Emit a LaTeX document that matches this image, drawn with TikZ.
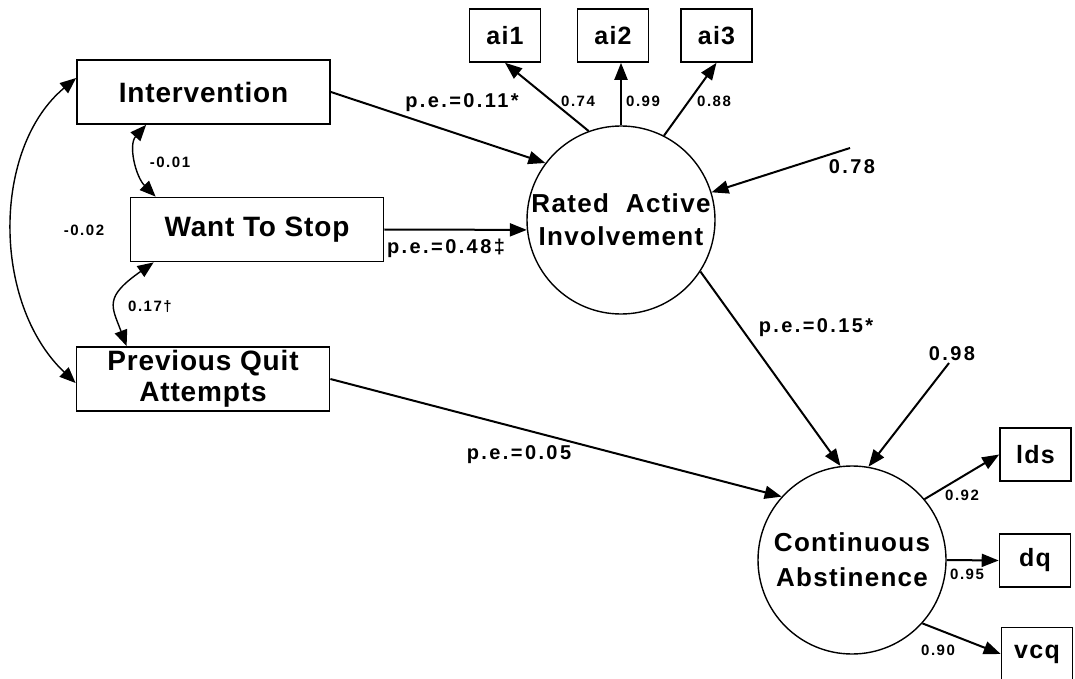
\documentclass[tikz,border=0pt]{standalone}
\usepackage{fontspec}
\setmainfont{Liberation Sans}
\newfontfamily\obsfam{Liberation Sans}[LetterSpace=3]
\newfontfamily\latfam{Liberation Sans}[LetterSpace=5]
\newfontfamily\indfam{Liberation Sans}[LetterSpace=5]
\newfontfamily\pefam{Liberation Sans}[LetterSpace=12]
\newfontfamily\ldfam{Liberation Sans}[LetterSpace=10]
\usetikzlibrary{arrows.meta,calc}
\tikzset{
  obs/.style={rectangle,draw,line width=0.9pt,inner sep=0pt,minimum width=126.5pt,minimum height=32pt,
    align=center,font=\obsfam\bfseries\fontsize{14}{15.5}\selectfont},
  ind/.style={rectangle,draw,line width=0.8pt,inner sep=0pt,minimum width=35.5pt,minimum height=26.5pt,
    font=\indfam\bfseries\fontsize{12.5}{14}\selectfont},
  lat/.style={circle,draw,line width=0.7pt,inner sep=-4pt,minimum size=94pt,align=center},
  pe/.style={inner sep=0pt,font=\pefam\bfseries\fontsize{10}{11}\selectfont},
  ld/.style={inner sep=0pt,font=\ldfam\bfseries\fontsize{7.5}{9}\selectfont},
  reg/.style={-{Triangle[length=8.5pt,width=6.5pt]},line width=1pt},
  cov/.style={{Triangle[length=8pt,width=6.5pt]}-{Triangle[length=8pt,width=6.5pt]},line width=0.7pt},
}

\begin{document}
\begin{tikzpicture}[x=0.5pt,y=-0.5pt]
  \useasboundingbox (0,0) rectangle (1075,679);
  % observed predictors
  \node[obs] (int) at (203.5,92) {Intervention};
  \node[obs] (wts) at (257,229.5) {Want To Stop};
  \node[obs] (pqa) at (203,379) {Previous Quit\\Attempts};
  % latent variables
  \node[lat,font=\latfam\bfseries\fontsize{13}{16.5}\selectfont] (rai) at (621,220) {Rated\ \ Active\\Involvement};
  \node[lat,font=\latfam\bfseries\fontsize{13}{17.5}\selectfont] (ca) at (852,560) {Continuous\\Abstinence};
  % indicators
  \node[ind] (ai1) at (505,35.5) {ai1};
  \node[ind] (ai2) at (613,35.5) {ai2};
  \node[ind] (ai3) at (716.5,35.5) {ai3};
  \node[ind] (lds) at (1035.5,454.5) {lds};
  \node[ind] (dq) at (1035,560.5) {dq};
  \node[ind] (vcq) at (1037,654) {vcq};
  \coordinate (e1) at (850,148);
  \coordinate (e2) at (949,363);
  % paths
  \draw[reg] (int.east) -- (rai.143);
  \draw[reg] (wts.east) -- (rai.186);
  \draw[reg] (pqa.east) -- (ca.138);
  \draw[reg] (rai.-33) -- (ca.97);
  \draw[reg] (e1) -- (rai.17);
  \draw[reg] (e2) -- (ca.80);
  \draw[reg] (rai.110) -- (ai1.south);
  \draw[reg] (rai.north) -- (rai.north |- ai2.south);
  \draw[reg] (rai.63) -- (ai3.south);
  \draw[reg] (ca.40) -- (lds.west);
  \draw[reg] (ca.east) -- (dq.west);
  \draw[reg] (ca.-42) -- (vcq.west);
  % correlations
  \draw[cov] ($(int.south west)+(70,0)$) .. controls +(-18,20) and +(-20,-20) .. ($(wts.north west)+(26,0)$);
  \draw[cov] ($(wts.south west)+(24,0)$) .. controls +(-50,35) and +(-15,-40) .. ($(pqa.north west)+(51,0)$);
  \draw[cov] ($(int.west)+(0,-14)$) .. controls +(-84,70) and +(-84,-80) .. ($(pqa.west)+(0,4)$);
  % estimates
  \node[pe] (pe1) at (462,103) {p.e.=0.11*};
  \node[pe] (pe2) at (446,248) {p.e.=0.48‡};
  \node[pe] (pe3) at (816,328) {p.e.=0.15*};
  \node[pe] (pe4) at (519,455) {p.e.=0.05};
  \node[pe] (r1) at (852,167) {0.78};
  \node[pe] (r2) at (952,354) {0.98};
  \node[ld] (l1) at (578,101) {0.74};
  \node[ld] (l2) at (643,101) {0.99};
  \node[ld] (l3) at (714,101) {0.88};
  \node[ld] (l4) at (962,495) {0.92};
  \node[ld] (l5) at (967,574) {0.95};
  \node[ld] (l6) at (938,650) {0.90};
  \node[ld] (c1) at (170,162) {-0.01};
  \node[ld] (c2) at (84,230) {-0.02};
  \node[ld] (c3) at (150,307) {0.17†};
\end{tikzpicture}
\end{document}
